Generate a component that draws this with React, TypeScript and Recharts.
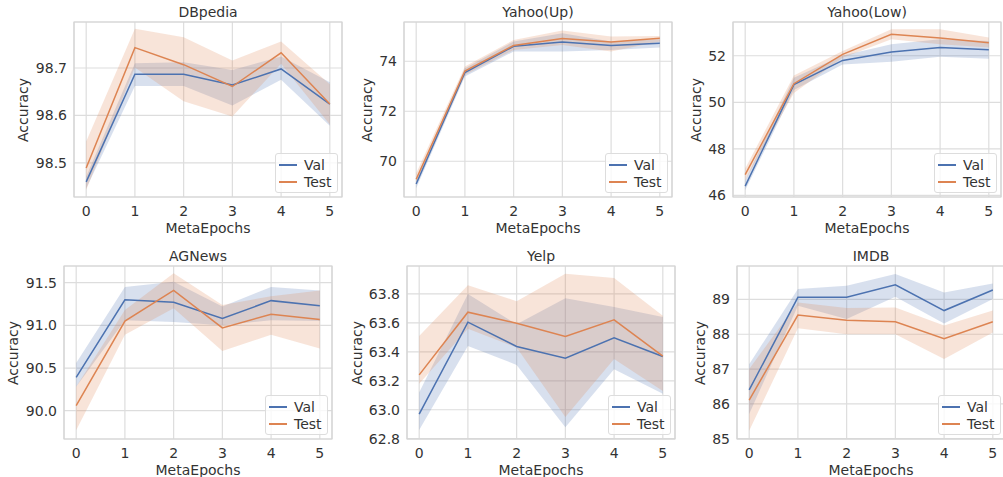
import { ComposedChart, Area, Line, XAxis, YAxis, CartesianGrid, ReferenceArea } from 'recharts'

const epochs = [0, 1, 2, 3, 4, 5]

const dbpediaVal = [98.46, 98.687, 98.687, 98.664, 98.698, 98.624]
const dbpediaValLo = [98.446, 98.662, 98.662, 98.621, 98.675, 98.578]
const dbpediaValHi = [98.471, 98.71, 98.712, 98.696, 98.724, 98.67]
const dbpediaTest = [98.489, 98.743, 98.707, 98.661, 98.732, 98.624]
const dbpediaTestLo = [98.443, 98.701, 98.63, 98.598, 98.709, 98.581]
const dbpediaTestHi = [98.545, 98.783, 98.765, 98.716, 98.756, 98.666]

const yahooUpVal = [69.09, 73.55, 74.6, 74.77, 74.63, 74.72]
const yahooUpValLo = [68.92, 73.39, 74.39, 74.39, 74.45, 74.55]
const yahooUpValHi = [69.25, 73.72, 74.79, 75.12, 74.79, 74.88]
const yahooUpTest = [69.28, 73.61, 74.63, 74.91, 74.77, 74.92]
const yahooUpTestLo = [69.12, 73.45, 74.45, 74.65, 74.39, 74.79]
const yahooUpTestHi = [69.52, 73.79, 74.85, 75.23, 74.99, 75.01]

const yahooLowVal = [46.4, 50.76, 51.8, 52.16, 52.35, 52.26]
const yahooLowValLo = [46.22, 50.53, 51.62, 51.74, 51.96, 51.87]
const yahooLowValHi = [46.65, 51.05, 52.01, 52.49, 52.71, 52.63]
const yahooLowTest = [46.89, 50.8, 52.06, 52.92, 52.76, 52.56]
const yahooLowTestLo = [46.65, 50.4, 51.91, 52.71, 52.49, 52.35]
const yahooLowTestHi = [47.15, 51.15, 52.2, 53.14, 53.14, 52.78]

const agnewsVal = [90.39, 91.3, 91.27, 91.08, 91.29, 91.23]
const agnewsValLo = [90.28, 91.06, 91.04, 91.0, 91.06, 91.05]
const agnewsValHi = [90.56, 91.45, 91.51, 91.22, 91.45, 91.41]
const agnewsTest = [90.06, 91.05, 91.41, 90.97, 91.13, 91.07]
const agnewsTestLo = [89.77, 90.89, 91.2, 90.7, 90.89, 90.73]
const agnewsTestHi = [90.28, 91.18, 91.61, 91.24, 91.34, 91.41]

const yelpVal = [62.97, 63.605, 63.437, 63.356, 63.497, 63.368]
const yelpValLo = [62.86, 63.44, 63.31, 62.88, 63.28, 63.11]
const yelpValHi = [63.12, 63.8, 63.59, 63.77, 63.71, 63.64]
const yelpTest = [63.241, 63.674, 63.598, 63.506, 63.621, 63.37]
const yelpTestLo = [63.18, 63.56, 63.43, 62.95, 63.35, 63.13]
const yelpTestHi = [63.51, 63.86, 63.75, 63.94, 63.91, 63.65]

const imdbVal = [86.4, 89.06, 89.06, 89.42, 88.68, 89.27]
const imdbValLo = [85.71, 88.82, 88.44, 89.08, 88.31, 89.01]
const imdbValHi = [87.14, 89.3, 89.39, 89.73, 89.2, 89.46]
const imdbTest = [86.11, 88.55, 88.4, 88.36, 87.87, 88.36]
const imdbTestLo = [85.23, 88.17, 88.0, 88.0, 87.29, 88.05]
const imdbTestHi = [87.0, 88.91, 88.75, 88.77, 88.25, 88.68]

const VAL = '#4c72b0'
const TEST = '#dd8452'
const TEXT = '#333333'
const FONT = '"DejaVu Sans", sans-serif'

function rows(v: number[], vLo: number[], vHi: number[], t: number[], tLo: number[], tHi: number[]) {
  return epochs.map((e, i) => ({
    epoch: e,
    val: v[i],
    valBand: [vLo[i], vHi[i]],
    test: t[i],
    testBand: [tLo[i], tHi[i]],
  }))
}

const panels = [
  {
    title: 'DBpedia', left: 74, top: 22, h: 175, domain: [98.428, 98.797], ticks: [98.5, 98.6, 98.7], dec: 1, labelGap: 51,
    data: rows(dbpediaVal, dbpediaValLo, dbpediaValHi, dbpediaTest, dbpediaTestLo, dbpediaTestHi),
  },
  {
    title: 'Yahoo(Up)', left: 404, top: 22, h: 175, domain: [68.57, 75.57], ticks: [70, 72, 74], dec: 0, labelGap: 37,
    data: rows(yahooUpVal, yahooUpValLo, yahooUpValHi, yahooUpTest, yahooUpTestLo, yahooUpTestHi),
  },
  {
    title: 'Yahoo(Low)', left: 733, top: 22, h: 175, domain: [45.93, 53.45], ticks: [46, 48, 50, 52], dec: 0, labelGap: 37,
    data: rows(yahooLowVal, yahooLowValLo, yahooLowValHi, yahooLowTest, yahooLowTestLo, yahooLowTestHi),
  },
  {
    title: 'AGNews', left: 64, top: 266, h: 173, domain: [89.668, 91.696], ticks: [90.0, 90.5, 91.0, 91.5], dec: 1, labelGap: 51,
    data: rows(agnewsVal, agnewsValLo, agnewsValHi, agnewsTest, agnewsTestLo, agnewsTestHi),
  },
  {
    title: 'Yelp', left: 407, top: 266, h: 173, domain: [62.798, 63.993], ticks: [62.8, 63.0, 63.2, 63.4, 63.6, 63.8], dec: 1, labelGap: 50,
    data: rows(yelpVal, yelpValLo, yelpValHi, yelpTest, yelpTestLo, yelpTestHi),
  },
  {
    title: 'IMDB', left: 737, top: 266, h: 173, domain: [84.99, 89.96], ticks: [85, 86, 87, 88, 89], dec: 0, labelGap: 37,
    data: rows(imdbVal, imdbValLo, imdbValHi, imdbTest, imdbTestLo, imdbTestHi),
  },
]

const PW = 268
const AXW = 60

function Panel({ p }: { p: (typeof panels)[number] }) {
  const tickStyle = { fill: TEXT, fontSize: 14, fontFamily: FONT }
  return (
    <>
      <div style={{ position: 'absolute', left: p.left - AXW, top: p.top - 22 }}>
        <ComposedChart
          width={PW + AXW + 2}
          height={p.h + 22 + 40}
          data={p.data}
          margin={{ top: 22, right: 2, left: 0, bottom: 0 }}
        >
          <CartesianGrid stroke="#dddddd" strokeWidth={1.2} />
          <XAxis
            type="number"
            dataKey="epoch"
            domain={[-0.25, 5.25]}
            ticks={epochs}
            allowDataOverflow
            height={40}
            axisLine={false}
            tickLine={false}
            tickSize={9}
            tickMargin={0}
            tick={tickStyle}
          />
          <YAxis
            type="number"
            domain={p.domain}
            ticks={p.ticks}
            allowDataOverflow
            width={AXW}
            axisLine={false}
            tickLine={false}
            tickSize={7}
            tickMargin={0}
            tick={tickStyle}
            tickFormatter={(v: number) => v.toFixed(p.dec)}
          />
          <ReferenceArea x1={-0.25} x2={5.25} y1={p.domain[0]} y2={p.domain[1]} fill="none" stroke="#d4d4d4" strokeWidth={1.2} />
          <Area type="linear" dataKey="valBand" fill={VAL} fillOpacity={0.22} stroke="none" isAnimationActive={false} activeDot={false} />
          <Area type="linear" dataKey="testBand" fill={TEST} fillOpacity={0.22} stroke="none" isAnimationActive={false} activeDot={false} />
          <Line type="linear" dataKey="val" stroke={VAL} strokeWidth={1.5} dot={false} isAnimationActive={false} />
          <Line type="linear" dataKey="test" stroke={TEST} strokeWidth={1.5} dot={false} isAnimationActive={false} />
        </ComposedChart>
      </div>
      <div style={{ position: 'absolute', left: p.left, width: PW, top: p.top - 18, height: 16, lineHeight: '16px', textAlign: 'center', fontSize: 14, color: TEXT, fontFamily: FONT }}>
        {p.title}
      </div>
      <div style={{ position: 'absolute', left: p.left, width: PW, top: p.top + p.h + 23, height: 16, lineHeight: '16px', textAlign: 'center', fontSize: 14, color: TEXT, fontFamily: FONT }}>
        MetaEpochs
      </div>
      <div
        style={{
          position: 'absolute', left: p.left - p.labelGap - 50, top: p.top + p.h / 2 - 8, width: 100, height: 16, lineHeight: '16px',
          textAlign: 'center', fontSize: 14, color: TEXT, fontFamily: FONT, transform: 'rotate(-90deg)',
        }}
      >
        Accuracy
      </div>
      <div
        style={{
          position: 'absolute', left: p.left + PW - 4 - 63, top: p.top + p.h - 4 - 40, width: 63, height: 40, boxSizing: 'border-box',
          background: 'rgba(255,255,255,0.8)', border: '1px solid #dddddd', borderRadius: 3, fontSize: 14, color: TEXT, fontFamily: FONT,
        }}
      >
        {[['Val', VAL, 11], ['Test', TEST, 28]].map(([name, color, y]) => (
          <div key={name as string}>
            <div style={{ position: 'absolute', left: 3, top: (y as number) - 1, width: 18, height: 1.5, background: color as string }} />
            <div style={{ position: 'absolute', left: 28, top: (y as number) - 9, height: 18, lineHeight: '18px' }}>{name}</div>
          </div>
        ))}
      </div>
    </>
  )
}

export default function App() {
  return (
    <div style={{ position: 'absolute', left: 0, top: 0, width: 1003, height: 477, overflow: 'hidden', background: '#ffffff' }}>
      {panels.map((p) => <Panel key={p.title} p={p} />)}
    </div>
  )
}
